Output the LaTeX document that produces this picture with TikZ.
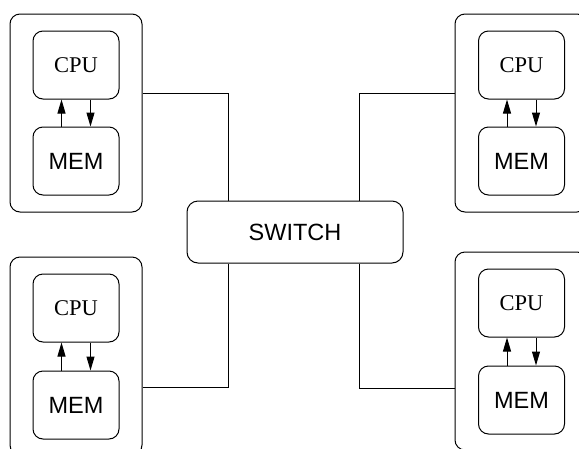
\documentclass[tikz,border=0pt]{standalone}
\usepackage{fontspec}
\setmainfont{Liberation Serif}
\setsansfont{Liberation Sans}
\usetikzlibrary{arrows.meta}
\begin{document}
\begin{tikzpicture}[x=1pt,y=-1pt,
  every node/.style={inner sep=0pt},
  outerbox/.style={draw, line width=1pt, rounded corners=10pt, minimum width=132pt, minimum height=198pt},
  cpubox/.style={draw, line width=1pt, rounded corners=10pt, minimum width=86pt, minimum height=68pt, font=\fontsize{22.5}{26}\selectfont\rmfamily},
  membox/.style={draw, line width=1pt, rounded corners=10pt, minimum width=86pt, minimum height=68pt, font=\fontsize{23.5}{27}\selectfont\sffamily},
  swbox/.style={draw, line width=1pt, rounded corners=11pt, minimum width=216pt, minimum height=62pt, font=\fontsize{23.5}{27}\selectfont\sffamily},
  link/.style={line width=1pt},
  flow/.style={line width=1pt, -{Triangle[length=14pt,width=8pt]}}
]
\clip (0,0) rectangle (579,448);
\fill[white] (0,0) rectangle (579,448);
% switch
\node[swbox] (sw) at (295,232) {SWITCH};
% outer boxes
\node[outerbox] (tl) at (76,113) {};
\node[outerbox] (tr) at (521,113) {};
\node[outerbox] (bl) at (76,356) {};
\node[outerbox] (br) at (521,351) {};
% CPU and MEM
\node[cpubox] (tlc) at (76,65) {CPU};
\node[membox] (tlm) at (76,161) {MEM};
\node[cpubox] (trc) at (521.5,65) {CPU};
\node[membox] (trm) at (521.5,161) {MEM};
\node[cpubox] (blc) at (76,308) {CPU};
\node[membox] (blm) at (76,405) {MEM};
\node[cpubox] (brc) at (521.5,303) {CPU};
\node[membox] (brm) at (521.5,400) {MEM};
% arrows
\foreach \c/\m in {tlc/tlm, trc/trm, blc/blm, brc/brm}{
  \draw[flow] ([xshift=-14.5pt]\m.north) -- ([xshift=-14.5pt]\c.south);
  \draw[flow] ([xshift=14.5pt]\c.south) -- ([xshift=14.5pt]\m.north);
}
% connectors
\draw[link] (tl.east |- 0,93) -| (sw.north -| 228,0);
\draw[link] (tr.west |- 0,93) -| (sw.north -| 359,0);
\draw[link] (bl.east |- 0,387) -| (sw.south -| 228,0);
\draw[link] (br.west |- 0,388) -| (sw.south -| 359,0);
\end{tikzpicture}
\end{document}
